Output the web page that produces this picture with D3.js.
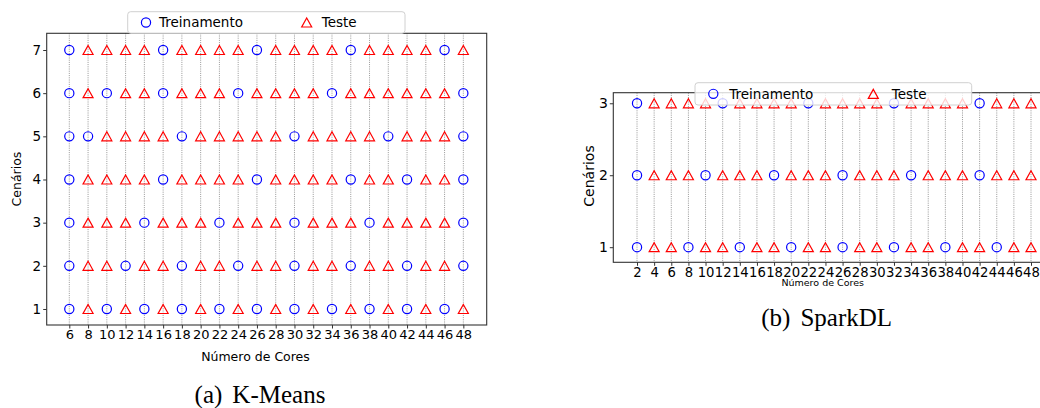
<!DOCTYPE html>
<html lang="pt">
<head>
  <meta charset="UTF-8">
  <title>Cenários de treinamento e teste</title>
  <script src="https://d3js.org/d3.v7.min.js"></script>
  <style>
    body { margin: 0; background: #fff; }
    svg { display: block; }
    text { font-family: "DejaVu Sans", sans-serif; fill: #000; }
    .caption { font-family: "Liberation Serif", "Times New Roman", serif; }
    .grid line { stroke: #8a8a8a; stroke-width: 0.9; stroke-dasharray: 1,1.2; }
    .spine { fill: none; stroke: #333; stroke-width: 1.1; }
    .axis path { display: none; }
    .axis line { stroke: #333; }
    .legend-box { fill: #fff; fill-opacity: 0.8; stroke: #d0d0d0; stroke-width: 1; }
  </style>
</head>
<body>
<svg width="1040" height="408"></svg>

<script>
  // (a) K-Means: cores, cenarios and which cores were used for training per cenario
  const kmCores = [6, 8, 10, 12, 14, 16, 18, 20, 22, 24, 26, 28, 30, 32, 34, 36, 38, 40, 42, 44, 46, 48];
  const kmCenarios = [1, 2, 3, 4, 5, 6, 7];
  const kmTreino = [
    [6, 10, 14, 18, 22, 26, 30, 34, 38, 42, 46],   // cenario 1
    [6, 12, 18, 24, 30, 36, 42, 48],               // cenario 2
    [6, 14, 22, 30, 38, 48],                       // cenario 3
    [6, 16, 26, 36, 42, 48],                       // cenario 4
    [6, 8, 18, 30, 40, 48],                        // cenario 5
    [6, 10, 16, 24, 34, 48],                       // cenario 6
    [6, 16, 26, 36, 46]                            // cenario 7
  ];

  // (b) SparkDL
  const sdCores = [2, 4, 6, 8, 10, 12, 14, 16, 18, 20, 22, 24, 26, 28, 30, 32, 34, 36, 38, 40, 42, 44, 46, 48];
  const sdCenarios = [1, 2, 3];
  const sdTreino = [
    [2, 8, 14, 20, 26, 32, 38, 44],                // cenario 1
    [2, 10, 18, 26, 34, 42],                       // cenario 2
    [2, 12, 22, 32, 42]                            // cenario 3
  ];

  const legendLabels = ["Treinamento", "Teste"];
  const azul = "#0000ff", vermelho = "#ff0000";

  const svg = d3.select("svg");

  function triangle(w, h) {
    return `M0,${-h}L${w},${h}L${-w},${h}Z`;
  }

  function drawPanel(cfg) {
    const g = svg.append("g");
    const x = d3.scaleLinear().domain(cfg.xDomain).range([cfg.left, cfg.right]);
    const y = d3.scaleLinear().domain(cfg.yDomain).range([cfg.bottom, cfg.top]);

    // vertical dotted grid at every core count
    g.append("g").attr("class", "grid")
      .selectAll("line").data(cfg.cores).join("line")
      .attr("x1", d => x(d)).attr("x2", d => x(d))
      .attr("y1", cfg.top).attr("y2", cfg.bottom);

    // points
    const pts = [];
    cfg.cenarios.forEach((c, i) => {
      cfg.cores.forEach(k => pts.push({ core: k, cen: c, treino: cfg.treino[i].includes(k) }));
    });

    g.append("g").selectAll("circle")
      .data(pts.filter(d => d.treino)).join("circle")
      .attr("cx", d => x(d.core)).attr("cy", d => y(d.cen))
      .attr("r", 4.6)
      .attr("fill", "none").attr("stroke", azul).attr("stroke-width", 1.2);

    g.append("g").selectAll("path")
      .data(pts.filter(d => !d.treino)).join("path")
      .attr("transform", d => `translate(${x(d.core)},${y(d.cen)})`)
      .attr("d", triangle(5, 4.5))
      .attr("fill", "none").attr("stroke", vermelho).attr("stroke-width", 1.2)
      .attr("stroke-linejoin", "miter");

    // axes
    const ax = g.append("g").attr("class", "axis")
      .attr("transform", `translate(0,${cfg.bottom})`)
      .call(d3.axisBottom(x).tickValues(cfg.cores).tickSize(3.5).tickFormat(d3.format("d")));
    ax.selectAll("text")
      .attr("dy", null).attr("y", cfg.xTickY)
      .style("font-size", cfg.tickFont + "px");

    const ay = g.append("g").attr("class", "axis")
      .attr("transform", `translate(${cfg.left},0)`)
      .call(d3.axisLeft(y).tickValues(cfg.cenarios).tickSize(3.5).tickPadding(2).tickFormat(d3.format("d")));
    ay.selectAll("text").style("font-size", cfg.yTickFont + "px");

    // frame
    g.append("rect").attr("class", "spine")
      .attr("x", cfg.left).attr("y", cfg.top)
      .attr("width", cfg.right - cfg.left).attr("height", cfg.bottom - cfg.top);

    // axis titles
    g.append("text")
      .attr("x", cfg.xLabel[0]).attr("y", cfg.xLabel[1])
      .attr("text-anchor", "middle")
      .style("font-size", cfg.xLabel[2] + "px")
      .text("Número de Cores");

    g.append("text")
      .attr("transform", `translate(${cfg.yLabel[0]},${cfg.yLabel[1]}) rotate(-90)`)
      .attr("text-anchor", "middle")
      .attr("dy", "0.35em")
      .style("font-size", cfg.yLabel[2] + "px")
      .text("Cenários");

    // legend
    const L = cfg.legend;
    const lg = g.append("g");
    lg.append("rect").attr("class", "legend-box")
      .attr("x", L.x0).attr("y", L.y0)
      .attr("width", L.x1 - L.x0).attr("height", L.y1 - L.y0)
      .attr("rx", 3);
    const cy = (L.y0 + L.y1) / 2;
    lg.append("circle").attr("cx", L.m1).attr("cy", cy).attr("r", 4.6)
      .attr("fill", "none").attr("stroke", azul).attr("stroke-width", 1.2);
    lg.append("path").attr("transform", `translate(${L.m2},${cy})`).attr("d", triangle(5, 4.5))
      .attr("fill", "none").attr("stroke", vermelho).attr("stroke-width", 1.2);
    lg.append("text").attr("x", L.t1).attr("y", cy).attr("dy", "0.36em")
      .style("font-size", L.font + "px").text(legendLabels[0]);
    lg.append("text").attr("x", L.t2).attr("y", cy).attr("dy", "0.36em")
      .style("font-size", L.font + "px").text(legendLabels[1]);

    // caption
    const cap = g.append("text").attr("class", "caption")
      .attr("x", cfg.caption[0]).attr("y", cfg.caption[1])
      .attr("text-anchor", "middle")
      .style("font-size", "25px");
    cap.append("tspan").text(cfg.caption[2]);
    cap.append("tspan").attr("dx", 10).text(cfg.caption[3]);
  }

  drawPanel({
    cores: kmCores, cenarios: kmCenarios, treino: kmTreino,
    left: 46.7, right: 486.7, top: 33.3, bottom: 325,
    xDomain: [3.59, 50.49], yDomain: [0.629, 7.387],
    tickFont: 13, yTickFont: 13.5, xTickY: 13.6,
    xLabel: [255.5, 361, 12.5],
    yLabel: [17, 179, 12.5],
    legend: { x0: 127.7, x1: 405, y0: 11.7, y1: 33.3, m1: 146, t1: 159, m2: 306.7, t2: 321.7, font: 13.5 },
    caption: [260, 403, "(a)", "K-Means"]
  });

  drawPanel({
    cores: sdCores, cenarios: sdCenarios, treino: sdTreino,
    left: 613.3, right: 1046, top: 92.7, bottom: 262.3,
    xDomain: [-0.77, 49.75], yDomain: [0.79, 3.147],
    tickFont: 13.2, yTickFont: 14, xTickY: 14.8,
    xLabel: [822.7, 285.6, 9.5],
    yLabel: [589, 176, 14],
    legend: { x0: 695, x1: 971.7, y0: 82.7, y1: 105, m1: 713.3, t1: 729.3, m2: 873.3, t2: 891.7, font: 13.5 },
    caption: [826.7, 326, "(b)", "SparkDL"]
  });
</script>
</body>
</html>
